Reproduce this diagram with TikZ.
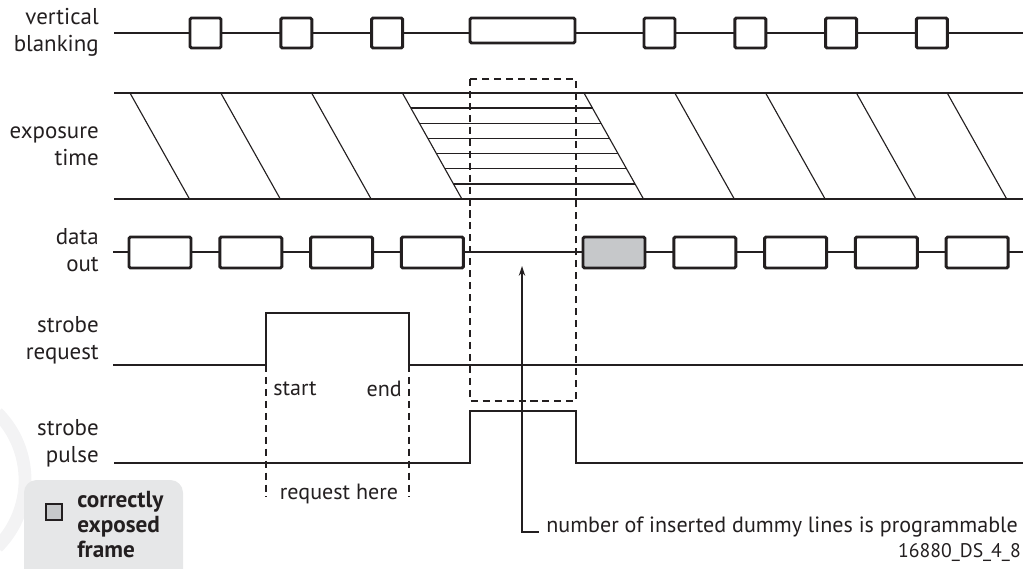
\documentclass[tikz,border=0pt]{standalone}
\usepackage{fontspec}
\setmainfont{PT Sans}
\usetikzlibrary{arrows.meta}

\definecolor{lineDark}{HTML}{231F20}
\definecolor{frameGray}{HTML}{C6C8CA}
\definecolor{legendGray}{HTML}{E6E7E8}
\definecolor{markGray}{HTML}{F3F3F4}

\tikzset{
    signal/.style={draw=lineDark, line width=2pt},
    slant/.style={draw=lineDark, line width=0.8pt},
    guide/.style={draw=lineDark, line width=0.85pt, dash pattern=on 5pt off 3.5pt},
    pulsebox/.style={draw=lineDark, line width=2.1pt, fill=white, rounded corners=1pt},
    rowlabel/.style={anchor=east, align=right, inner sep=0pt, text=lineDark,
        font=\fontsize{16.3}{19.2}\selectfont},
    note/.style={inner sep=0pt, text=lineDark, font=\fontsize{15.7}{19.2}\selectfont}
}

\begin{document}
\begin{tikzpicture}[x=0.025cm, y=-0.025cm]

        \useasboundingbox (0,0) rectangle (1031,569);

        % Marca de fondo
        \draw[
            draw=markGray,
            line width=0.32cm
        ] (-2.8,412.8) arc[start angle=-45, end angle=45, radius=95];

        % Etiquetas de filas
        \node[rowlabel] (lblBlank) at (99,32) {vertical\\blanking};
        \node[rowlabel] (lblExpo) at (99,146) {exposure\\time};
        \node[rowlabel] (lblData) at (99,250) {data\\out};
        \node[rowlabel] (lblReq) at (99,340) {strobe\\request};
        \node[rowlabel] (lblPulse) at (99,443) {strobe\\pulse};

        % =====================================================
        % VERTICAL BLANKING
        % =====================================================

        \draw[signal] (114,33) -- (1023,33);
        \foreach \k in {0,1,2,5,6,7,8} {
            \draw[pulsebox] ({190+90.8*\k},18) rectangle +(31,30);
        }
        \draw[pulsebox] (470,18) rectangle (575,43);

        % =====================================================
        % EXPOSURE TIME
        % =====================================================

        \draw[signal] (114,93) -- (1023,93);
        \draw[signal] (114,199) -- (1023,199);
        \foreach \k in {0,1,2,3,5,6,7,8,9} {
            \draw[slant] ({130+90.8*\k},93) -- +(59.5,106);
        }
        % lineas de relleno
        \foreach \i in {1,...,6} {
            \draw[slant, line width=1pt] ({402.4+59.5*\i/7},{93+106*\i/7}) -- +(181.6,0);
        }

        % =====================================================
        % DATA OUT
        % =====================================================

        \draw[signal] (113,252) -- (1023,252);
        \foreach \k in {0,1,2,3,6,7,8,9} {
            \draw[pulsebox] ({129+90.8*\k},237) rectangle +(62,31);
        }
        \draw[pulsebox, fill=frameGray] ({129+90.8*5},237) rectangle +(62,31);

        % Ventana de lineas ficticias
        \draw[guide] (470,79) rectangle (576,401);

        % =====================================================
        % STROBE REQUEST
        % =====================================================

        \draw[signal] (113,365) -- (266,365) -- (266,313) -- (409,313)
            -- (409,365) -- (1023,365);
        \draw[guide] (266,365) -- (266,497);
        \draw[guide] (409,365) -- (409,497);

        \node[note, anchor=west] (lblStart) at (273,389) {start};
        \node[note, anchor=east] (lblEnd) at (402,389) {end};
        \node[note] (lblHere) at (339,494) {request here};

        % =====================================================
        % STROBE PULSE
        % =====================================================

        \draw[signal] (114,463) -- (470,463) -- (470,411) -- (576,411)
            -- (576,463) -- (1023,463);

        % Nota de lineas ficticias
        \coordinate (dummyTip) at (522,266);
        \coordinate (dummyCorner) at (522,532);
        \node[note, anchor=base west] (lblDummy) at (546,532)
            {number of inserted dummy lines is programmable};
        \draw[
            slant,
            line width=0.9pt,
            {Stealth[length=7pt, width=4.6pt]}-
        ] (dummyTip) -- (dummyCorner) -- +(17,0);

        \node[
            anchor=east,
            inner sep=0pt,
            text=lineDark,
            font=\fontsize{14}{16}\selectfont
        ] (figId) at (1021,553) {16880\_DS\_4\_8};

        % =====================================================
        % LEYENDA
        % =====================================================

        \draw[
            fill=legendGray,
            draw=none,
            rounded corners=9pt
        ] (24,480) rectangle (183,600);

        \node[
            draw=lineDark,
            fill=frameGray,
            line width=1.4pt,
            minimum size=0.4cm,
            inner sep=0pt
        ] (legSwatch) at (54,512) {};

        \node[
            anchor=west,
            align=left,
            inner sep=0pt,
            text=lineDark,
            font=\bfseries\fontsize{16.5}{17.8}\selectfont
        ] (legText) at (77,525) {correctly\\exposed\\frame};

\end{tikzpicture}
\end{document}
